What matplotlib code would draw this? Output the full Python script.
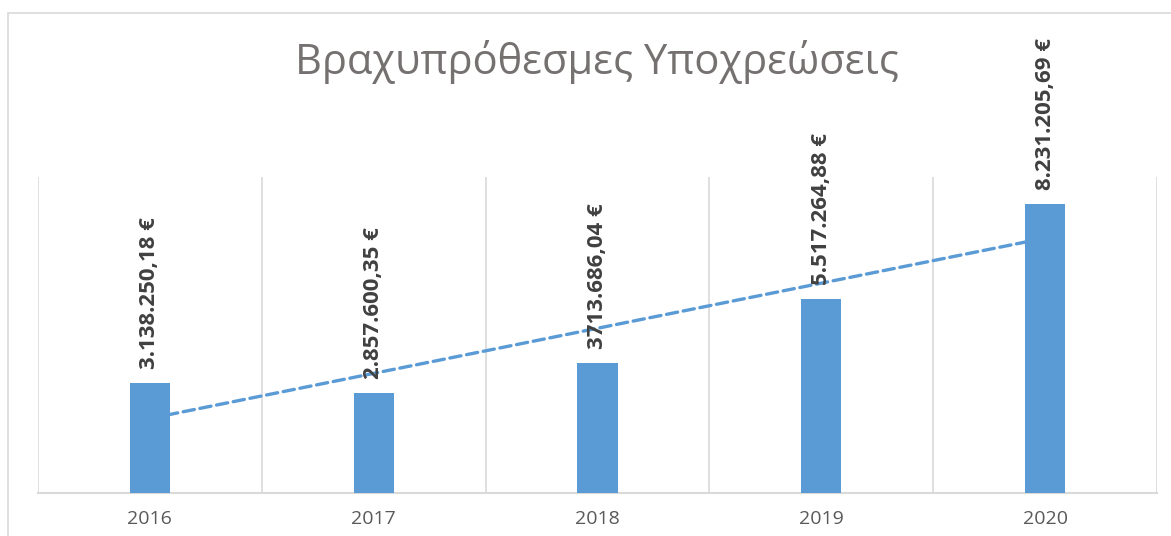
import numpy as np
import matplotlib
matplotlib.use('Agg')
import matplotlib.pyplot as plt
from matplotlib.patches import Rectangle

title = 'Βραχυπρόθεσμες Υποχρεώσεις'
years = ['2016', '2017', '2018', '2019', '2020']
values = [3138250.18, 2857600.35, 3713686.04, 5517264.88, 8231205.69]
labels = ['3.138.250,18 €', '2.857.600,35 €', '3713.686,04 €', '5.517.264,88 €', '8.231.205,69 €']

bar_col = '#5B9BD5'
grid_col = '#D9D9D9'

fig = plt.figure(figsize=(11.71, 5.36), dpi=100)
# outer chart border (right/bottom fall off the picture)
fig.patches.append(Rectangle((8/1171, -0.2), 1.2, 1.2 - 13/536, transform=fig.transFigure,
                             fill=False, edgecolor=grid_col, lw=1.2))

ax = fig.add_axes([38/1171, 1 - 493/536, (1157 - 38)/1171, (493 - 177)/536])
x = np.arange(len(years))

ax.bar(x, values, width=0.18, color=bar_col, zorder=3)

# linear trendline
k, b = np.polyfit(x + 1, values, 1)
ax.plot([x[0], x[-1]], [k*(x[0]+1) + b, k*(x[-1]+1) + b], color=bar_col, lw=2.4,
        ls=(0, (3.4, 1.7)), dash_capstyle='round', zorder=2)

for xi, v, lab in zip(x, values, labels):
    ax.annotate(lab, (xi, v), xytext=(0, 10), textcoords='offset points', rotation=90,
                ha='center', va='bottom', fontsize=16, fontweight='bold', color='#404040',
                family='Open Sans', zorder=4)

ax.set_xlim(-0.5, len(years) - 0.5)
ax.set_ylim(0, 9000000)
ax.set_yticks([])
ax.set_xticks(x)
ax.set_xticklabels(years, fontsize=14, color='#595959', family='Open Sans')
ax.set_xticks(np.arange(-0.5, len(years)), minor=True)
ax.tick_params(axis='x', which='both', length=0, pad=12)
ax.grid(True, which='minor', axis='x', color=grid_col, lw=1.2)
for s in ['top', 'left', 'right']:
    ax.spines[s].set_visible(False)
ax.spines['bottom'].set_color(grid_col)
ax.spines['bottom'].set_linewidth(1.5)

fig.text(597/1171, 1 - 62/536, title, ha='center', va='center', fontsize=30,
         color='#767171', family='Open Sans')

fig.savefig('out.png', dpi=100)
